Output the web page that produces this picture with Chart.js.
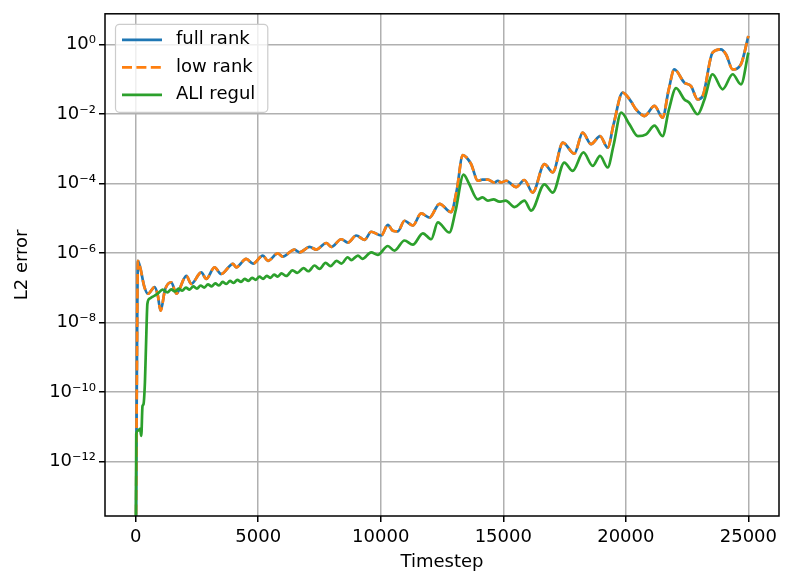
<!DOCTYPE html>
<html>
<head>
<meta charset="utf-8">
<script src="https://cdn.jsdelivr.net/npm/chart.js@4.4.0/dist/chart.umd.min.js"></script>
<style>
    html, body { margin: 0; padding: 0; background: #fff; }
    #js-wrap { width: 793px; height: 587px; }
</style>
</head>
<body>
<div id="js-wrap"><canvas id="js-chart" width="793" height="587"></canvas></div>
<script>
// timesteps shared by the full rank and low rank runs
const rankSteps = [0, 40, 94, 200, 350, 500, 775, 900, 1020, 1200, 1455, 1660, 2070, 2270, 2680,
    2880, 3220, 3490, 3970, 4100, 4510, 4790, 5190, 5400, 5800, 6000, 6480, 6690, 7100, 7370,
    7780, 7980, 8390, 8660, 9000, 9340, 9610, 10020, 10290, 10490, 10700, 10970, 11310, 11650, 11990,
    12400, 12870, 13100, 13350, 13500, 13690, 13960, 14150, 14370, 14640, 14780, 14910, 15120, 15530, 15860,
    16200, 16680, 17020, 17430, 17900, 18240, 18580, 18950, 19260, 19500, 19870, 20210, 20400, 20620, 20760,
    21170, 21500, 21750, 21980, 22390, 22660, 22930, 23140, 23540, 23880, 24090, 24360, 24700, 25000];

// first value sits below the visible axis range (line runs off the bottom)
const fullRankError = [1e-16, 2.0e-11, 6.0e-7, 3.5e-7, 1.1e-7, 6.8e-8, 1.05e-7, 6.3e-8, 2.2e-8, 8.9e-8,
    1.45e-7, 6.8e-8, 2.2e-7, 1.3e-7, 2.8e-7, 1.8e-7, 3.9e-7, 2.5e-7, 4.9e-7, 3.9e-7,
    6.8e-7, 5.0e-7, 8.5e-7, 6.0e-7, 9.8e-7, 7.9e-7, 1.26e-6, 1.05e-6, 1.5e-6, 1.26e-6,
    1.95e-6, 1.5e-6, 2.5e-6, 2.0e-6, 3.2e-6, 2.4e-6, 4.1e-6, 3.2e-6, 6.5e-6, 4.4e-6,
    4.2e-6, 8.5e-6, 6.2e-6, 1.38e-5, 1.05e-5, 2.6e-5, 1.5e-5, 6.3e-5, 6.6e-4, 5.6e-4,
    3.6e-4, 1.2e-4, 1.3e-4, 1.3e-4, 1.07e-4, 1.2e-4, 1.07e-4, 1.2e-4, 7.9e-5, 1.26e-4,
    5.5e-5, 3.6e-4, 2.1e-4, 1.5e-3, 7.2e-4, 2.9e-3, 1.35e-3, 2.3e-3, 1.07e-3, 5.0e-3,
    4.1e-2, 2.3e-2, 1.4e-2, 9.8e-3, 8.7e-3, 1.7e-2, 7.8e-3, 5.0e-2, 0.19, 7.9e-2,
    6.3e-2, 2.6e-2, 3.3e-2, 0.58, 0.72, 0.51, 0.19, 0.27, 1.74];

const lowRankError = [1e-16, 2.0e-11, 6.0e-7, 3.5e-7, 1.1e-7, 6.8e-8, 1.05e-7, 6.3e-8, 2.2e-8, 8.9e-8,
    1.45e-7, 6.8e-8, 2.2e-7, 1.3e-7, 2.8e-7, 1.8e-7, 3.9e-7, 2.5e-7, 4.9e-7, 3.9e-7,
    6.8e-7, 5.0e-7, 8.5e-7, 6.0e-7, 9.8e-7, 7.9e-7, 1.26e-6, 1.05e-6, 1.5e-6, 1.26e-6,
    1.95e-6, 1.5e-6, 2.5e-6, 2.0e-6, 3.2e-6, 2.4e-6, 4.1e-6, 3.2e-6, 6.5e-6, 4.4e-6,
    4.2e-6, 8.5e-6, 6.2e-6, 1.38e-5, 1.05e-5, 2.6e-5, 1.5e-5, 6.3e-5, 6.6e-4, 5.6e-4,
    3.6e-4, 1.2e-4, 1.3e-4, 1.3e-4, 1.07e-4, 1.2e-4, 1.07e-4, 1.2e-4, 7.9e-5, 1.26e-4,
    5.5e-5, 3.6e-4, 2.1e-4, 1.5e-3, 7.2e-4, 2.9e-3, 1.35e-3, 2.3e-3, 1.07e-3, 5.0e-3,
    4.1e-2, 2.3e-2, 1.4e-2, 9.8e-3, 8.7e-3, 1.7e-2, 7.8e-3, 5.0e-2, 0.19, 7.9e-2,
    6.3e-2, 2.6e-2, 3.3e-2, 0.58, 0.72, 0.51, 0.19, 0.27, 1.74];

const aliSteps = [0, 25, 100, 180, 230, 280, 320, 380, 430, 480, 570, 700, 900, 1100, 1300,
    1450, 1600, 1750, 1900, 2050, 2200, 2350, 2500, 2650, 2800, 2950, 3100, 3250, 3400, 3550,
    3700, 3850, 4000, 4150, 4300, 4450, 4600, 4750, 4900, 5050, 5200, 5350, 5500, 5650, 5800,
    5950, 6150, 6400, 6600, 6850, 7050, 7300, 7500, 7750, 7950, 8200, 8400, 8650, 8800, 9070,
    9250, 9610, 9880, 10290, 10560, 10970, 11310, 11720, 12060, 12330, 12800, 13050, 13380, 13600, 13960,
    14150, 14370, 14600, 14840, 15100, 15460, 15860, 16140, 16680, 17020, 17490, 17830, 18270, 18650, 18950,
    19260, 19500, 19810, 20150, 20490, 20830, 21170, 21500, 21750, 22050, 22390, 22590, 22930, 23200, 23540,
    23950, 24360, 24700, 25000];

const aliError = [1e-16, 6.3e-12, 7.9e-12, 8.9e-12, 5.6e-12, 4.0e-11, 4.5e-11, 2.0e-10, 3.2e-9, 3.5e-8,
    4.9e-8, 5.6e-8, 6.8e-8, 8.9e-8, 7.4e-8, 9.1e-8, 7.9e-8, 9.5e-8, 8.3e-8, 1.02e-7,
    8.9e-8, 1.1e-7, 9.5e-8, 1.17e-7, 1.02e-7, 1.26e-7, 1.1e-7, 1.35e-7, 1.17e-7, 1.48e-7,
    1.29e-7, 1.58e-7, 1.38e-7, 1.7e-7, 1.48e-7, 1.82e-7, 1.58e-7, 1.95e-7, 1.7e-7, 2.1e-7,
    1.82e-7, 2.2e-7, 1.95e-7, 2.4e-7, 2.1e-7, 2.6e-7, 2.2e-7, 3.2e-7, 2.7e-7, 3.7e-7,
    3.0e-7, 4.4e-7, 3.5e-7, 5.2e-7, 4.2e-7, 6.0e-7, 5.0e-7, 7.6e-7, 6.3e-7, 8.5e-7,
    6.8e-7, 1.05e-6, 8.9e-7, 1.6e-6, 1.17e-6, 2.3e-6, 1.74e-6, 3.7e-6, 2.5e-6, 7.6e-6,
    3.9e-6, 1.6e-5, 1.8e-4, 1.0e-4, 3.5e-5, 4.0e-5, 3.2e-5, 3.5e-5, 3.0e-5, 3.2e-5,
    2.1e-5, 3.2e-5, 1.66e-5, 9.5e-5, 5.5e-5, 4.0e-4, 2.3e-4, 7.8e-4, 3.2e-4, 6.2e-4,
    2.9e-4, 1.26e-3, 1.1e-2, 5.0e-3, 2.3e-3, 2.6e-3, 4.6e-3, 2.3e-3, 1.26e-2, 5.5e-2,
    2.6e-2, 2.1e-2, 9.8e-3, 2.5e-2, 0.138, 5.1e-2, 0.138, 7.1e-2, 0.58];

const xTickValues = [0, 5000, 10000, 15000, 20000, 25000];
const yTickValues = [1e-12, 1e-10, 1e-8, 1e-6, 1e-4, 1e-2, 1e0];

const FONT = { family: 'DejaVu Sans', size: 18 };
const SUP = { '-': '\u207B', '0': '\u2070', '1': '\u00B9', '2': '\u00B2', '3': '\u00B3', '4': '\u2074',
    '5': '\u2075', '6': '\u2076', '7': '\u2077', '8': '\u2078', '9': '\u2079' };

function toPoints(steps, values) {
    return steps.map((x, i) => ({ x: x, y: values[i] }));
}

function powerLabel(value) {
    const exp = String(Math.round(Math.log10(value)));
    return '10' + exp.split('').map(c => SUP[c]).join('');
}

// black frame around the plot area, like matplotlib spines
const axesFrame = {
    id: 'axesFrame',
    afterDatasetsDraw(chart) {
        const { ctx, chartArea: a } = chart;
        ctx.save();
        ctx.strokeStyle = '#000';
        ctx.lineWidth = 1.5;
        ctx.strokeRect(a.left, a.top, a.right - a.left, a.bottom - a.top);
        ctx.restore();
    }
};

// legend box drawn inside the plot, upper left
const legendBox = {
    id: 'legendBox',
    afterDraw(chart) {
        const { ctx, chartArea: a } = chart;
        const sets = chart.data.datasets;
        const left = a.left + 10;
        const top = a.top + 10;
        const rowGap = 27.5;
        ctx.save();
        ctx.font = FONT.size + 'px ' + FONT.family;
        const textWidth = Math.max(...sets.map(d => ctx.measureText(d.label).width));
        const width = 7 + 40 + 14 + textWidth + 12;
        const height = 88;
        ctx.beginPath();
        ctx.roundRect(left + 0.5, top + 0.5, width, height, 4);
        ctx.fillStyle = 'rgba(255,255,255,0.8)';
        ctx.fill();
        ctx.strokeStyle = '#cccccc';
        ctx.lineWidth = 1.2;
        ctx.stroke();
        sets.forEach((d, i) => {
            const y = top + 16 + i * rowGap;
            ctx.beginPath();
            ctx.setLineDash(d.borderDash || []);
            ctx.strokeStyle = d.borderColor;
            ctx.lineWidth = d.borderWidth;
            ctx.moveTo(left + 7, y);
            ctx.lineTo(left + 47, y);
            ctx.stroke();
            ctx.setLineDash([]);
            ctx.fillStyle = '#000';
            ctx.textBaseline = 'middle';
            ctx.fillText(d.label, left + 61, y);
        });
        ctx.restore();
    }
};

const chartElement = document.getElementById('js-chart');

const chart = new Chart(chartElement, {
    type: 'line',
    data: {
        datasets: [{
            label: 'full rank',
            data: toPoints(rankSteps, fullRankError),
            borderColor: '#1f77b4',
            borderWidth: 2.7,
            order: 3
        }, {
            label: 'low rank',
            data: toPoints(rankSteps, lowRankError),
            borderColor: '#ff7f0e',
            borderWidth: 2.7,
            borderDash: [10, 4.4],
            order: 2
        }, {
            label: 'ALI regul',
            data: toPoints(aliSteps, aliError),
            borderColor: '#2ca02c',
            borderWidth: 2.7,
            order: 1
        }]
    },
    options: {
        responsive: false,
        animation: false,
        devicePixelRatio: 1,
        elements: {
            point: { radius: 0 },
            line: { cubicInterpolationMode: 'monotone', borderJoinStyle: 'round' }
        },
        layout: { padding: { top: 11, right: 14, left: 0, bottom: 0 } },
        plugins: {
            legend: { display: false },
            tooltip: { enabled: false }
        },
        scales: {
            x: {
                type: 'linear',
                min: -1250,
                max: 26250,
                afterBuildTicks: scale => { scale.ticks = xTickValues.map(v => ({ value: v })); },
                afterFit: scale => { scale.height = 71; },
                grid: { color: '#b0b0b0', lineWidth: 1.5, tickColor: '#000', tickLength: 6, tickWidth: 1.5 },
                border: { display: false },
                ticks: { font: FONT, color: '#000', padding: 5, maxRotation: 0, autoSkip: false, callback: v => String(v) },
                title: { display: true, text: 'Timestep', font: FONT, color: '#000', padding: { top: 0, bottom: 14 } }
            },
            y: {
                type: 'logarithmic',
                min: 2.77e-14,
                max: 7.55,
                afterBuildTicks: scale => { scale.ticks = yTickValues.map(v => ({ value: v })); },
                afterFit: scale => { scale.width = 105; },
                grid: { color: '#b0b0b0', lineWidth: 1.5, tickColor: '#000', tickLength: 6, tickWidth: 1.5 },
                border: { display: false },
                ticks: { font: FONT, color: '#000', padding: 3, autoSkip: false, callback: v => powerLabel(v) },
                title: { display: true, text: 'L2 error', font: FONT, color: '#000', padding: { top: 12, bottom: 0 } }
            }
        }
    },
    plugins: [axesFrame, legendBox]
});
</script>
</body>
</html>
